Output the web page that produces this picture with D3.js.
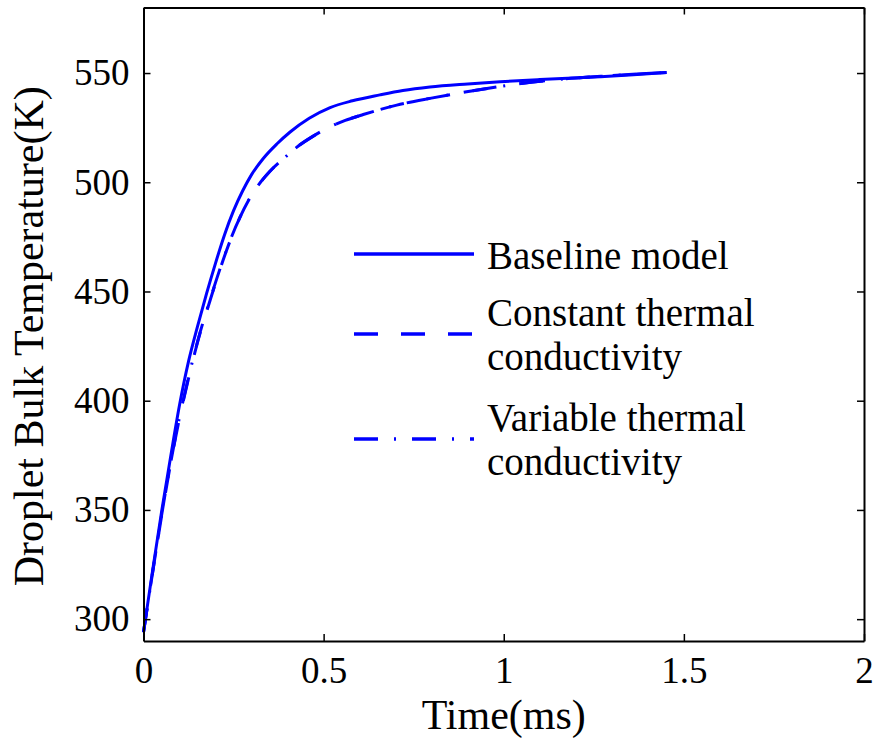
<!DOCTYPE html>
<html>
<head>
<meta charset="utf-8">
<script src="https://cdn.jsdelivr.net/npm/d3@7"></script>
<style>
  body { margin: 0; background: #fff; }
  svg { display: block; }
  text { font-family: "Liberation Serif", "DejaVu Serif", serif; fill: #000; }
</style>
</head>
<body>
<svg id="chart" width="877" height="751"></svg>
<script>
// time (ms) and bulk temperature (K)
var baselineTime = [0, 0.025, 0.05, 0.075, 0.1, 0.125, 0.15, 0.175, 0.2, 0.225, 0.25, 0.275, 0.3, 0.333, 0.37, 0.407, 0.46, 0.518, 0.58, 0.656, 0.72, 0.795, 0.9, 0.99, 1.1, 1.267, 1.36, 1.452];
var baselineTemp = [294, 322, 349, 374, 398, 418, 434, 449, 463, 476, 487, 496, 503.5, 511, 517.5, 523, 529.3, 534.2, 537.3, 540, 542, 543.6, 545, 546, 547, 548.3, 549.2, 550.3];

var constantTime = [0, 0.025, 0.05, 0.075, 0.1, 0.124, 0.152, 0.185, 0.21, 0.24, 0.268, 0.291, 0.314, 0.351, 0.39, 0.425, 0.47, 0.518, 0.56, 0.61, 0.703, 0.795, 0.897, 1.017, 1.156, 1.3, 1.452];
var constantTemp = [294, 321, 347, 371, 392, 409.5, 428, 446, 459, 473, 484, 491.5, 497.5, 505, 511, 516, 521, 525.4, 528.3, 531, 535.3, 538.4, 541.4, 544.5, 547.1, 548.8, 550.3];

var variableTime = [0, 0.025, 0.05, 0.075, 0.1, 0.124, 0.152, 0.185, 0.21, 0.24, 0.268, 0.291, 0.314, 0.351, 0.39, 0.425, 0.47, 0.518, 0.56, 0.61, 0.703, 0.795, 0.897, 1.017, 1.156, 1.3, 1.452];
var variableTemp = [294, 321, 347.3, 371.3, 392.5, 410, 428.3, 446.3, 459.2, 473.2, 484, 491.6, 497.6, 505, 511, 516, 521, 525.4, 528.3, 531, 535.3, 538.4, 541.4, 544.5, 547.1, 548.8, 550.3];

var xTicks = [0, 0.5, 1, 1.5, 2];
var yTicks = [300, 350, 400, 450, 500, 550];

var seriesNames = ["Baseline model", "Constant thermal|conductivity", "Variable thermal|conductivity"];

// plot box (note: "top" is reserved on window, so prefix these)
var boxLeft = 143.5, boxRight = 864, boxTop = 7.5, boxBottom = 641;
var svg = d3.select("#chart");

var x = d3.scaleLinear().domain([0, 2]).range([boxLeft, boxRight]);
var y = d3.scaleLinear().domain([290, 580]).range([boxBottom, boxTop]);

var series = [
    {name: seriesNames[0], t: baselineTime, v: baselineTemp, dash: null},
    {name: seriesNames[1], t: constantTime, v: constantTemp, dash: "24,23"},
    {name: seriesNames[2], t: variableTime, v: variableTemp, dash: "24,16,2,16"}
];

var line = d3.line()
    .x(function(d) { return x(d[0]); })
    .y(function(d) { return y(d[1]); })
    .curve(d3.curveMonotoneX);

svg.append("g").selectAll("path")
    .data(series)
    .enter().append("path")
    .attr("d", function(s) { return line(d3.zip(s.t, s.v)); })
    .attr("fill", "none")
    .attr("stroke", "#0000ff")
    .attr("stroke-width", 3)
    .attr("stroke-dasharray", function(s) { return s.dash; });

// axes: ticks pointing inward on all four sides (matlab box)
svg.append("g").attr("class", "axis")
    .attr("transform", "translate(0," + boxBottom + ")")
    .call(d3.axisBottom(x).tickValues(xTicks).tickSizeInner(-7).tickSizeOuter(0).tickPadding(16).tickFormat(d3.format("")));
svg.append("g").attr("class", "axis")
    .attr("transform", "translate(0," + boxTop + ")")
    .call(d3.axisTop(x).tickValues(xTicks).tickSizeInner(-7).tickSizeOuter(0).tickFormat(""));
svg.append("g").attr("class", "axis")
    .attr("transform", "translate(" + boxLeft + ",0)")
    .call(d3.axisLeft(y).tickValues(yTicks).tickSizeInner(-7).tickSizeOuter(0).tickPadding(14));
svg.append("g").attr("class", "axis")
    .attr("transform", "translate(" + boxRight + ",0)")
    .call(d3.axisRight(y).tickValues(yTicks).tickSizeInner(-7).tickSizeOuter(0).tickFormat(""));

svg.selectAll(".axis path").attr("stroke", "#000").attr("stroke-width", 2);
svg.selectAll(".axis line").attr("stroke", "#000").attr("stroke-width", 1.5);
svg.selectAll(".axis text")
    .style("font-family", "'Liberation Serif', serif")
    .style("font-size", "37px")
    .attr("fill", "#000");

// axis titles
svg.append("text")
    .attr("x", (boxLeft + boxRight) / 2)
    .attr("y", 729)
    .attr("text-anchor", "middle")
    .style("font-size", "42px")
    .text("Time(ms)");

svg.append("text")
    .attr("transform", "translate(43," + ((boxTop + boxBottom) / 2 + 12) + ") rotate(-90)")
    .attr("text-anchor", "middle")
    .style("font-size", "42px")
    .text("Droplet Bulk Temperature(K)");

// legend
var legendY = [254, 334, 439];
var legend = svg.append("g");
series.forEach(function(s, i) {
    legend.append("line")
        .attr("x1", 354).attr("x2", 474)
        .attr("y1", legendY[i]).attr("y2", legendY[i])
        .attr("stroke", "#0000ff")
        .attr("stroke-width", 3.3)
        .attr("stroke-dasharray", s.dash);
    var parts = s.name.split("|");
    var t = legend.append("text")
        .attr("x", 487)
        .style("font-size", "39px");
    var y0 = parts.length === 1 ? legendY[i] + 15 : legendY[i] - 8;
    parts.forEach(function(p, j) {
        t.append("tspan").attr("x", 487).attr("y", y0 + j * 44).text(p);
    });
});
</script>
</body>
</html>
